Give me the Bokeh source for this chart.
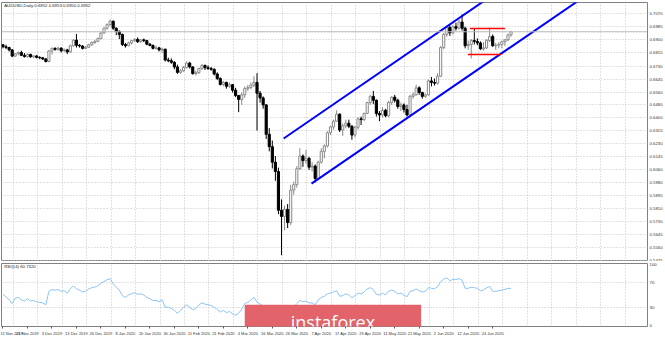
from bokeh.plotting import figure
from bokeh.layouts import column
from bokeh.models import Range1d, FixedTicker, Grid, Label, Span, ColumnDataSource, NumeralTickFormatter
from bokeh.embed import file_html
from bokeh.resources import INLINE

# ---------------- data ----------------
date_ticks = [0, 8, 16, 24, 32, 40, 48, 56, 64, 72, 80, 88, 96, 104, 112, 120, 128, 136, 144, 152, 160]
date_labels = ["11 Nov 2019", "21 Nov 2019", "3 Dec 2019", "13 Dec 2019", "26 Dec 2019", "8 Jan 2020",
               "20 Jan 2020", "30 Jan 2020", "11 Feb 2020", "21 Feb 2020", "4 Mar 2020", "16 Mar 2020",
               "26 Mar 2020", "7 Apr 2020", "17 Apr 2020", "29 Apr 2020", "11 May 2020", "21 May 2020",
               "2 Jun 2020", "12 Jun 2020", "24 Jun 2020"]
price_ticks = [0.7070, 0.6985, 0.6900, 0.6815, 0.6730, 0.6645, 0.6560, 0.6480, 0.6400, 0.6315,
               0.6230, 0.6145, 0.6060, 0.5980, 0.5895, 0.5810, 0.5730, 0.5645, 0.5560, 0.5475]
rsi_ticks = [0, 30, 70, 100]

opens = [0.6868,0.6855,0.6850,0.6835,0.6795,0.6810,0.6818,0.6800,0.6792,0.6806,
         0.6790,0.6796,0.6786,0.6784,0.6776,0.6760,0.6828,0.6845,0.6838,0.6847,
         0.6830,0.6835,0.6822,0.6862,0.6898,0.6865,0.6860,0.6845,0.6852,0.6868,
         0.6882,0.6890,0.6908,0.6944,0.6975,0.6998,0.7020,0.6975,0.6955,0.6935,
         0.6870,0.6862,0.6880,0.6895,0.6903,0.6888,0.6900,0.6895,0.6872,0.6864,
         0.6845,0.6848,0.6835,0.6840,0.6770,0.6765,0.6755,0.6725,0.6690,0.6700,
         0.6722,0.6750,0.6725,0.6682,0.6688,0.6715,0.6735,0.6720,0.6715,0.6710,
         0.6680,0.6650,0.6612,0.6625,0.6600,0.6610,0.6575,0.6540,0.6515,0.6545,
         0.6585,0.6592,0.6608,0.6625,0.6555,0.6525,0.6480,0.6290,0.6210,0.6110,
         0.6050,0.5800,0.5760,0.5805,0.5720,0.5930,0.5965,0.6068,0.6150,0.6120,
         0.6135,0.6078,0.6085,0.6005,0.6110,0.6180,0.6215,0.6300,0.6338,0.6375,
         0.6420,0.6318,0.6345,0.6362,0.6342,0.6285,0.6335,0.6390,0.6385,0.6425,
         0.6495,0.6535,0.6510,0.6425,0.6415,0.6445,0.6410,0.6495,0.6530,0.6510,
         0.6470,0.6480,0.6450,0.6415,0.6535,0.6545,0.6590,0.6560,0.6535,0.6545,
         0.6635,0.6625,0.6620,0.6665,0.6850,0.6935,0.6980,0.6945,0.6985,0.6975,
         0.7015,0.6975,0.6862,0.6870,0.6895,0.6890,0.6880,0.6842,0.6848,0.6895,
         0.6922,0.6862,0.6865,0.6870,0.6888,0.6900,0.6932]
highs = [0.6872,0.6868,0.6855,0.6840,0.6815,0.6825,0.6830,0.6815,0.6812,0.6810,
         0.6800,0.6802,0.6795,0.6790,0.6783,0.6835,0.6850,0.6852,0.6855,0.6850,
         0.6845,0.6842,0.6868,0.6905,0.6938,0.6872,0.6865,0.6860,0.6875,0.6890,
         0.6898,0.6915,0.6950,0.6980,0.7005,0.7032,0.7025,0.6980,0.6960,0.6940,
         0.6880,0.6888,0.6900,0.6910,0.6915,0.6905,0.6908,0.6900,0.6880,0.6870,
         0.6862,0.6855,0.6850,0.6842,0.6785,0.6780,0.6762,0.6740,0.6712,0.6730,
         0.6762,0.6758,0.6730,0.6700,0.6720,0.6745,0.6740,0.6735,0.6725,0.6715,
         0.6690,0.6658,0.6635,0.6630,0.6625,0.6615,0.6590,0.6545,0.6560,0.6600,
         0.6610,0.6625,0.6665,0.6685,0.6570,0.6535,0.6485,0.6330,0.6250,0.6150,
         0.6075,0.5870,0.5830,0.5840,0.5965,0.5985,0.6085,0.6200,0.6160,0.6190,
         0.6145,0.6110,0.6095,0.6120,0.6200,0.6225,0.6310,0.6345,0.6385,0.6445,
         0.6425,0.6360,0.6385,0.6385,0.6350,0.6345,0.6400,0.6405,0.6430,0.6500,
         0.6545,0.6570,0.6515,0.6440,0.6465,0.6455,0.6505,0.6535,0.6545,0.6520,
         0.6495,0.6490,0.6480,0.6545,0.6560,0.6610,0.6600,0.6565,0.6555,0.6645,
         0.6660,0.6650,0.6685,0.6860,0.6945,0.6990,0.7000,0.6995,0.7010,0.7030,
         0.7064,0.6985,0.6895,0.6905,0.6975,0.6910,0.6890,0.6885,0.6905,0.6978,
         0.6935,0.6880,0.6885,0.6895,0.6905,0.6940,0.6958]
lows = [0.6845,0.6840,0.6825,0.6788,0.6790,0.6800,0.6795,0.6785,0.6785,0.6785,
        0.6782,0.6780,0.6775,0.6770,0.6754,0.6755,0.6805,0.6830,0.6830,0.6818,
        0.6822,0.6808,0.6815,0.6855,0.6850,0.6850,0.6838,0.6840,0.6848,0.6862,
        0.6875,0.6885,0.6905,0.6940,0.6965,0.6990,0.6965,0.6930,0.6905,0.6860,
        0.6850,0.6858,0.6870,0.6888,0.6880,0.6880,0.6885,0.6865,0.6858,0.6838,
        0.6838,0.6825,0.6815,0.6760,0.6755,0.6745,0.6710,0.6680,0.6682,0.6695,
        0.6715,0.6715,0.6675,0.6670,0.6680,0.6705,0.6705,0.6705,0.6700,0.6670,
        0.6640,0.6605,0.6600,0.6585,0.6590,0.6560,0.6530,0.6433,0.6480,0.6525,
        0.6570,0.6580,0.6595,0.6315,0.6495,0.6455,0.6260,0.6180,0.6070,0.5990,
        0.5775,0.5510,0.5670,0.5685,0.5705,0.5900,0.5945,0.6060,0.6080,0.6100,
        0.6060,0.6050,0.5980,0.5995,0.6100,0.6135,0.6205,0.6285,0.6320,0.6370,
        0.6305,0.6280,0.6330,0.6330,0.6255,0.6270,0.6320,0.6350,0.6375,0.6420,
        0.6480,0.6485,0.6405,0.6375,0.6400,0.6400,0.6400,0.6480,0.6495,0.6455,
        0.6440,0.6430,0.6405,0.6400,0.6520,0.6540,0.6545,0.6520,0.6525,0.6540,
        0.6600,0.6605,0.6610,0.6660,0.6840,0.6920,0.6925,0.6935,0.6960,0.6965,
        0.6960,0.6845,0.6835,0.6780,0.6870,0.6865,0.6835,0.6830,0.6840,0.6885,
        0.6855,0.6835,0.6845,0.6845,0.6860,0.6890,0.6920]
closes = [0.6855,0.6850,0.6835,0.6795,0.6810,0.6818,0.6800,0.6792,0.6806,0.6790,
          0.6796,0.6786,0.6784,0.6776,0.6760,0.6828,0.6845,0.6838,0.6847,0.6830,
          0.6835,0.6822,0.6862,0.6898,0.6865,0.6860,0.6845,0.6852,0.6868,0.6882,
          0.6890,0.6908,0.6944,0.6975,0.6998,0.7020,0.6975,0.6955,0.6935,0.6870,
          0.6862,0.6880,0.6895,0.6903,0.6888,0.6900,0.6895,0.6872,0.6864,0.6845,
          0.6848,0.6835,0.6840,0.6770,0.6765,0.6755,0.6725,0.6690,0.6700,0.6722,
          0.6750,0.6725,0.6682,0.6688,0.6715,0.6735,0.6720,0.6715,0.6710,0.6680,
          0.6650,0.6612,0.6625,0.6600,0.6610,0.6575,0.6540,0.6515,0.6545,0.6585,
          0.6592,0.6608,0.6625,0.6555,0.6525,0.6480,0.6290,0.6210,0.6110,0.6050,
          0.5800,0.5760,0.5805,0.5720,0.5930,0.5965,0.6068,0.6150,0.6120,0.6135,
          0.6078,0.6085,0.6005,0.6110,0.6180,0.6215,0.6300,0.6338,0.6375,0.6420,
          0.6318,0.6345,0.6362,0.6342,0.6285,0.6335,0.6390,0.6385,0.6425,0.6495,
          0.6535,0.6510,0.6425,0.6415,0.6445,0.6410,0.6495,0.6530,0.6510,0.6470,
          0.6480,0.6450,0.6415,0.6535,0.6545,0.6590,0.6560,0.6535,0.6545,0.6635,
          0.6625,0.6620,0.6665,0.6850,0.6935,0.6980,0.6945,0.6985,0.6975,0.7015,
          0.6975,0.6862,0.6870,0.6895,0.6890,0.6880,0.6842,0.6848,0.6895,0.6922,
          0.6862,0.6865,0.6870,0.6888,0.6900,0.6932,0.6952]
rsi = [51,47,42,36,45,46,42,40,44,40,
       41,39,38,37,34,56,59,58,59,56,
       57,53,60,65,60,58,55,56,60,62,
       63,65,69,72,75,77,68,63,58,49,
       46,50,52,54,51,52,50,46,44,41,
       41,39,42,30,30,28,25,20,25,30,
       34,30,26,28,34,37,35,34,33,30,
       26,22,25,21,23,19,17,20,27,36,
       38,42,46,38,35,32,22,19,15,13,
       9,9,12,11,27,30,36,41,39,40,
       37,37,34,42,46,48,52,53,55,57,
       48,49,52,50,45,49,53,52,55,60,
       62,59,51,50,53,50,56,58,56,52,
       53,50,47,56,57,60,57,55,56,62,
       61,60,64,72,76,78,73,76,75,77,
       74,61,61,63,62,61,57,58,62,64,
       56,56,57,58,59,61,60.7]

last_price = 0.6952
# trend channel (bar index, price)
upper_x = [91.7, 158.8]
upper_y = [0.6263, 0.7173]
lower_x = [100.8, 188.1]
lower_y = [0.5972, 0.7154]
# range box
box_top_x = [152.6, 164.0]
box_top_y = [0.6973, 0.6973]
box_bot_x = [151.9, 162.7]
box_bot_y = [0.6805, 0.6805]

# ---------------- build ----------------
n = len(closes)
xs = list(range(n))
bull = dict(x=[], top=[], bot=[], h=[], l=[])
bear = dict(x=[], top=[], bot=[], h=[], l=[])
for i in xs:
    d = bull if closes[i] >= opens[i] else bear
    d["x"].append(i); d["h"].append(highs[i]); d["l"].append(lows[i])
    d["top"].append(max(opens[i], closes[i])); d["bot"].append(min(opens[i], closes[i]))
src_bull = ColumnDataSource(bull)
src_bear = ColumnDataSource(bear)

W = 665
RB = 16
FW = W - 1 - RB
X_END = -0.49 + FW / 3.07
xr = Range1d(-0.49, X_END)
FONT = "Liberation Sans"
SFS = "4.3px"
GRID_COLOR = "#c4c4c4"
OUTLINE = "#808080"


def style_yaxis(ax):
    ax.major_label_text_font_size = SFS
    ax.major_label_text_font = FONT
    ax.major_label_text_color = "#333333"
    ax.major_label_standoff = 2
    ax.axis_line_color = None
    ax.major_tick_line_color = None
    ax.major_tick_out = 0
    ax.major_tick_in = 0
    ax.minor_tick_line_color = None
    ax.minor_tick_out = 0
    ax.minor_tick_in = 0


vgrid_ticks = [3.3 + 8 * k for k in range(27)]

# ---- price panel ----
p1 = figure(width=W, height=261, x_range=xr, y_range=Range1d(0.5469, 0.7141),
            x_axis_location=None, y_axis_location="right", output_backend="svg", toolbar_location=None,
            min_border_top=2, min_border_left=1, min_border_bottom=0, min_border_right=RB)
p1.outline_line_color = OUTLINE
p1.yaxis.ticker = FixedTicker(ticks=price_ticks)
p1.yaxis.formatter = NumeralTickFormatter(format="0.0000")
style_yaxis(p1.yaxis[0])
p1.xgrid.visible = False
p1.ygrid.grid_line_color = GRID_COLOR
p1.ygrid.grid_line_dash = "1 2"
p1.add_layout(Grid(dimension=0, ticker=FixedTicker(ticks=vgrid_ticks), grid_line_color=GRID_COLOR, grid_line_dash="1 2"))
p1.add_layout(Span(location=last_price, dimension="width", line_color="#b8b8b8", line_width=1))

p1.segment(x0="x", y0="l", x1="x", y1="h", source=src_bull, line_color="#8a8a8a", line_width=1)
p1.segment(x0="x", y0="l", x1="x", y1="h", source=src_bear, line_color="#000000", line_width=1)
p1.vbar(x="x", width=0.7, top="top", bottom="bot", source=src_bull, fill_color="white", line_color="#8a8a8a", line_width=1)
p1.vbar(x="x", width=0.7, top="top", bottom="bot", source=src_bear, fill_color="black", line_color="black", line_width=1)

p1.line(upper_x, upper_y, line_color="#0000ff", line_width=2)
p1.line(lower_x, lower_y, line_color="#0000ff", line_width=2)
p1.line(box_top_x, box_top_y, line_color="#ff0000", line_width=1.5)
p1.line(box_bot_x, box_bot_y, line_color="#ff0000", line_width=1.5)

p1.add_layout(Label(x=X_END, y=last_price, x_offset=1, text="0.6952", text_font=FONT, text_font_size=SFS,
                    text_color="white", text_baseline="middle", background_fill_color="black", padding=(1, 0)))
p1.add_layout(Label(x=0.4, y=0.7122, text="AUDUSD,Daily  0.6952 0.6953 0.6950 0.6952", text_font=FONT,
                    text_font_size=SFS, text_color="#222222", text_baseline="middle"))

# ---- RSI panel ----
p2 = figure(width=W, height=77, x_range=xr, y_range=Range1d(-1.6, 101.6),
            y_axis_location="right", output_backend="svg", toolbar_location=None,
            min_border_top=2, min_border_left=1, min_border_bottom=10, min_border_right=RB)
p2.outline_line_color = OUTLINE
p2.yaxis.ticker = FixedTicker(ticks=rsi_ticks)
style_yaxis(p2.yaxis[0])
p2.xgrid.visible = False
p2.ygrid.visible = False
p2.add_layout(Grid(dimension=1, ticker=FixedTicker(ticks=[30, 70]), grid_line_color=GRID_COLOR, grid_line_dash="1 2"))
p2.add_layout(Grid(dimension=0, ticker=FixedTicker(ticks=vgrid_ticks), grid_line_color=GRID_COLOR, grid_line_dash="1 2"))

p2.xaxis.ticker = FixedTicker(ticks=date_ticks)
p2.xaxis.major_label_overrides = {t: s for t, s in zip(date_ticks, date_labels)}
p2.xaxis.major_label_text_align = "left"
p2.xaxis.major_label_text_font_size = "4px"
p2.xaxis.major_label_text_font = FONT
p2.xaxis.major_label_text_color = "#333333"
p2.xaxis.major_label_standoff = 2
p2.xaxis.axis_line_color = None
p2.xaxis.major_tick_in = 0
p2.xaxis.major_tick_out = 2
p2.xaxis.major_tick_line_color = "#555555"
p2.xaxis.minor_tick_line_color = None
p2.xaxis.minor_tick_out = 0

p2.line(xs, rsi, line_color="#8cc4f5", line_width=1)
p2.add_layout(Label(x=0.4, y=96, text="RSI(14) 60.7320", text_font=FONT, text_font_size=SFS,
                    text_color="#222222", text_baseline="middle"))
p2.add_layout(Label(x=107.8, y=6.3, text="instaforex", text_font="Open Sans", text_font_size="18px",
                    text_color="white", text_align="center", text_baseline="middle",
                    background_fill_color="#e2636a", padding=(46, 5)))

layout = column(p1, p2, spacing=0)
open("out.html", "w").write(file_html(layout, INLINE))
